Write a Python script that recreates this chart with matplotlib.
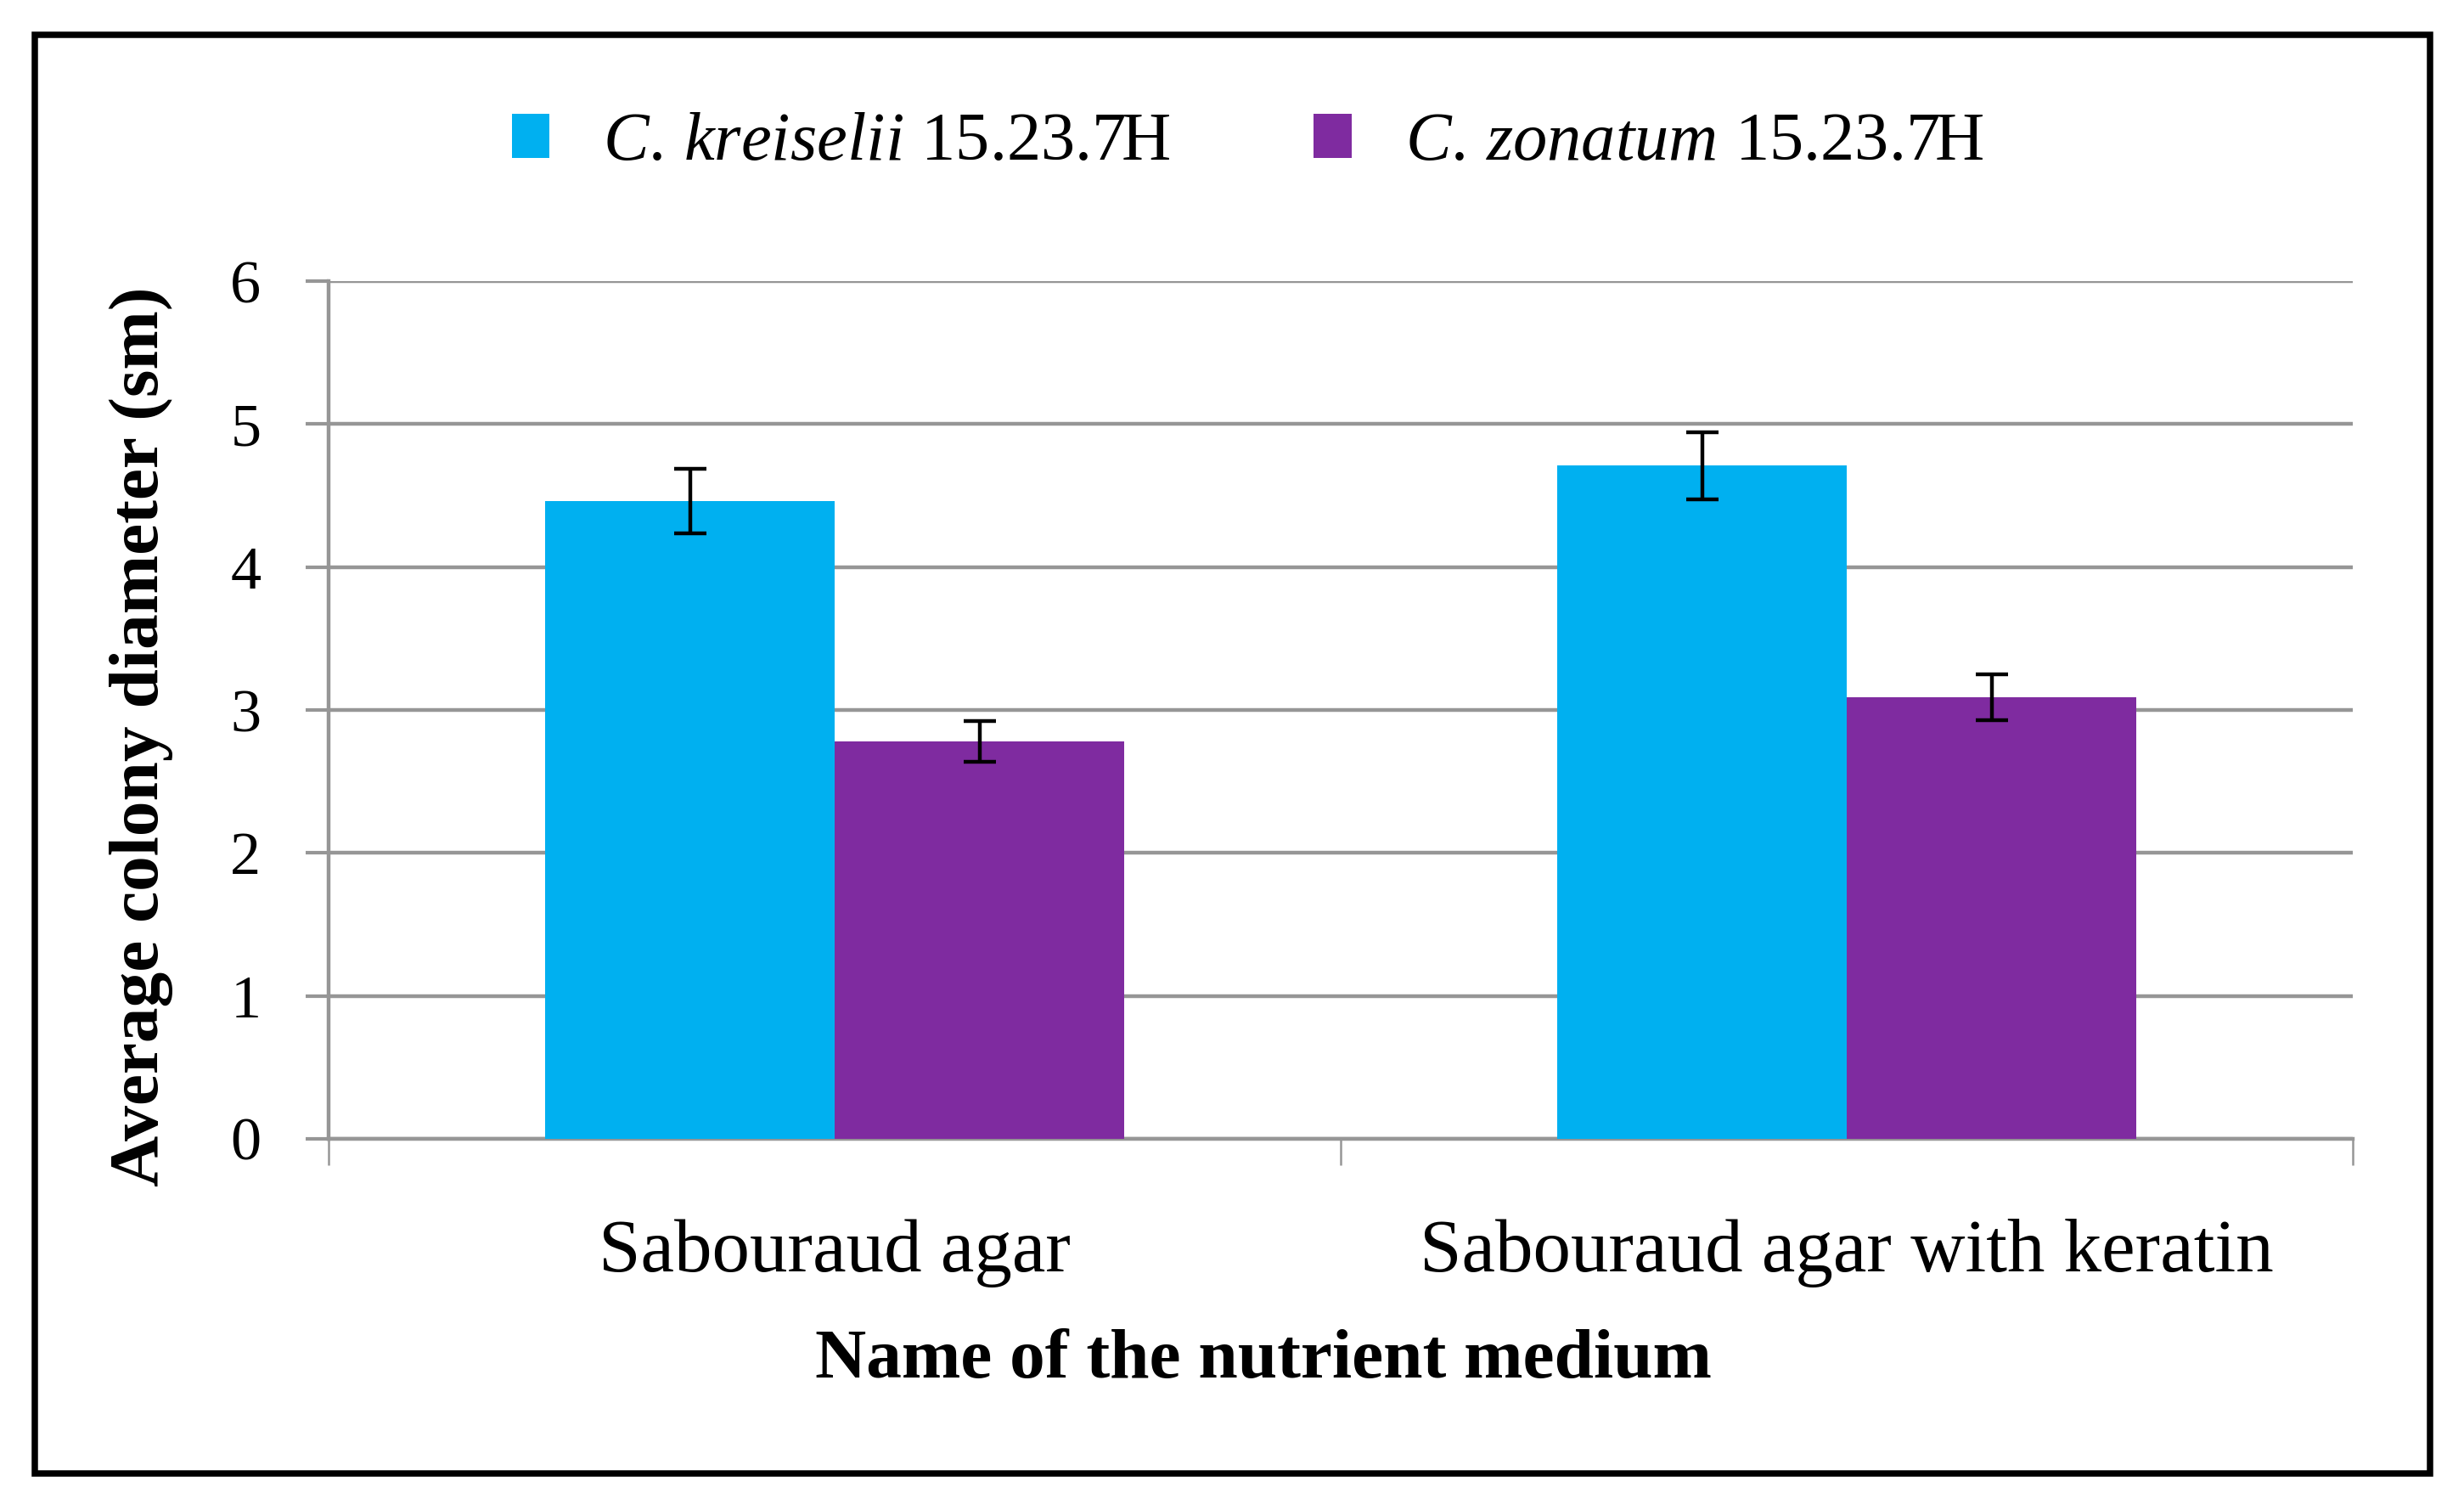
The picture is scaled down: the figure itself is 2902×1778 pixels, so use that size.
import numpy as np
import matplotlib
matplotlib.use('Agg')
import matplotlib.pyplot as plt
from matplotlib.patches import Rectangle

plt.rcParams['font.family'] = ['Liberation Serif', 'DejaVu Serif']
plt.rcParams['mathtext.fontset'] = 'custom'
plt.rcParams['mathtext.rm'] = 'Liberation Serif'
plt.rcParams['mathtext.it'] = 'Liberation Serif:italic'

# data
categories = ['Sabouraud agar', 'Sabouraud agar with keratin']
kreiselii = [4.46, 4.71]
kreiselii_err = [0.225, 0.235]
zonatum = [2.78, 3.09]
zonatum_err = [0.14, 0.16]
series_names = [r'$\mathit{C.\,kreiselii}$ 15.23.7H', r'$\mathit{C.\,zonatum}$ 15.23.7H']
yticks = [0, 1, 2, 3, 4, 5, 6]

cyan = '#00B0F0'
purple = '#7F2BA0'
grid_gray = '#969696'

fig = plt.figure(figsize=(14.51, 8.89), dpi=200)
ax = fig.add_axes([0.1334, 0.2458, 0.8215, 0.568])

x = np.arange(len(categories))
w = 0.286

b1 = ax.bar(x - w/2, kreiselii, w, color=cyan, label=series_names[0], zorder=3)
b2 = ax.bar(x + w/2, zonatum, w, color=purple, label=series_names[1], zorder=3)
ax.errorbar(x - w/2, kreiselii, yerr=kreiselii_err, fmt='none', ecolor='black',
            elinewidth=1.6, capsize=6.7, capthick=1.6, zorder=4)
ax.errorbar(x + w/2, zonatum, yerr=zonatum_err, fmt='none', ecolor='black',
            elinewidth=1.6, capsize=6.7, capthick=1.6, zorder=4)

ax.set_xlim(-0.5, 1.5)
ax.set_ylim(0, 6)
ax.set_yticks(yticks)
ax.yaxis.grid(True, color=grid_gray, linewidth=1.6, zorder=0)
ax.set_axisbelow(True)

for s in ['top', 'right']:
    ax.spines[s].set_visible(False)
for s in ['left', 'bottom']:
    ax.spines[s].set_color(grid_gray)
    ax.spines[s].set_linewidth(1.6)

ax.set_xticks(x)
ax.set_xticklabels(categories, fontsize=32)
ax.set_xticks([-0.5, 0.5, 1.5], minor=True)
ax.tick_params(axis='x', which='major', length=0, pad=34)
ax.tick_params(axis='x', which='minor', length=11, width=0.9, color=grid_gray, direction='out')
ax.tick_params(axis='y', length=9.7, width=1.5, color=grid_gray, direction='out', pad=19, labelsize=26)

fig.text(0.0572, 0.512, 'Average colony diameter (sm)', rotation=90, fontsize=30,
         fontweight='bold', ha='center', va='center')
fig.text(0.5128, 0.0878, 'Name of the nutrient medium', fontsize=30,
         fontweight='bold', ha='center', va='baseline')

fig.legend(handles=[b1, b2], loc='center', bbox_to_anchor=(0.5064, 0.905), ncol=2,
           frameon=False, fontsize=29, handlelength=0.55, handleheight=0.62,
           handletextpad=0.78, columnspacing=2.1)

fig.patches.append(Rectangle((0.0141, 0.0242), 0.9721, 0.9528, transform=fig.transFigure,
                             fill=False, edgecolor='black', linewidth=2.7))

fig.savefig('out.png', dpi=200)
